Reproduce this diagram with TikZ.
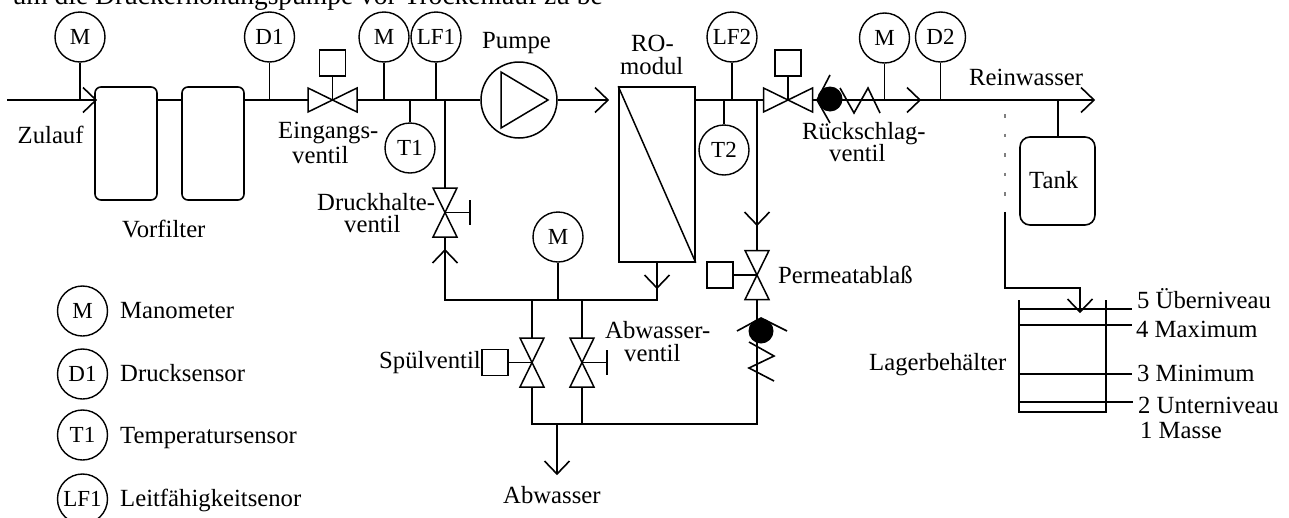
\documentclass[tikz,border=0pt]{standalone}
\usepackage{fontspec}
\setmainfont{Liberation Serif}
\usetikzlibrary{calc}
\tikzset{
  pipe/.style={line width=1.6pt,line join=miter},
  thin pipe/.style={line width=1.4pt},
  inst/.style={circle,draw,line width=1.4pt,minimum size=50pt,inner sep=0pt,font=\fontsize{23}{23}\selectfont},
  txt/.style={anchor=base west,inner sep=0pt,font=\fontsize{24.7}{24.7}\selectfont},
  unit/.style={draw,line width=1.6pt,rounded corners=6pt,minimum width=0pt,inner sep=0pt},
  actbox/.style={draw,line width=1.5pt,minimum size=26pt,inner sep=0pt},
  valveshape/.style={draw,line width=1.5pt,line join=miter,fill=white},
}
% arrow chevrons: tip coordinate, direction
\newcommand{\chevR}[1]{\draw[pipe] ($(#1)+(-13,-12.5)$) -- (#1) -- ($(#1)+(-13,12.5)$);}
\newcommand{\chevD}[1]{\draw[pipe] ($(#1)+(-12.5,-13)$) -- (#1) -- ($(#1)+(12.5,-13)$);}
\newcommand{\chevU}[1]{\draw[pipe] ($(#1)+(-12.5,13)$) -- (#1) -- ($(#1)+(12.5,13)$);}
\newcommand{\valveH}[1]{\draw[valveshape] ($(#1)+(-24.5,-12)$) -- ($(#1)+(-24.5,12)$) -- ($(#1)+(24.5,-12)$) -- ($(#1)+(24.5,12)$) -- cycle;}
\newcommand{\valveV}[1]{\draw[valveshape] ($(#1)+(-12,-24.5)$) -- ($(#1)+(12,-24.5)$) -- ($(#1)+(-12,24.5)$) -- ($(#1)+(12,24.5)$) -- cycle;}
\begin{document}
\begin{tikzpicture}[x=1pt,y=-1pt]
\useasboundingbox (0,0) rectangle (1289,517);
\begin{scope}
\clip (0,0) rectangle (1289,517);
\node[txt,font=\fontsize{27.5}{27.5}\selectfont] (head) at (12.5,4) {um die Druckerhöhungspumpe vor Trockenlauf zu be};

% --- named points ---
\coordinate (start) at (7,100);
\coordinate (t1) at (96,100);
\coordinate (v1) at (332.5,100);
\coordinate (v2) at (788,100);
\coordinate (v3) at (445,212.5);
\coordinate (v4) at (757,275);
\coordinate (v5) at (532,362.5);
\coordinate (v6) at (582,362.5);
\coordinate (endr) at (1094,100);
\coordinate (arrP) at (608,100);
\coordinate (arrC) at (920,100);
\coordinate (arrD) at (757,225);
\coordinate (arrU) at (445,250);
\coordinate (arrM) at (657,288);
\coordinate (arrA) at (557,474);
\coordinate (arrL) at (1080,312);
\coordinate (b1) at (445,300);
\coordinate (b2) at (657,300);
\coordinate (c1) at (532,424);
\coordinate (c2) at (757,424);
\coordinate (dash1) at (1005,114);
\coordinate (dash2) at (1005,212);
\coordinate (corner) at (1005,288);
\coordinate (corner2) at (1080,288);

% --- units ---
\node[unit,minimum width=62pt,minimum height=113pt] (f1) at (126,143.5) {};
\node[unit,minimum width=62pt,minimum height=113pt] (f2) at (213,143.5) {};
\node[unit,rounded corners=10pt,minimum width=75pt,minimum height=88pt] (tank) at (1057.5,181) {};
\node[circle,draw,line width=1.5pt,minimum size=76pt,inner sep=0pt] (pump) at (519,100) {};
\node[draw,line width=1.6pt,minimum width=76pt,minimum height=175pt,inner sep=0pt] (ro) at (657,174.5) {};

% --- main pipe ---
\draw[pipe] (start) -- (f1.west |- start);
\draw[pipe] (f1.east |- start) -- (f2.west |- start);
\draw[pipe] (f2.east |- start) -- (v1);
\draw[pipe] (v1) -- (pump.west);
\draw[pipe] (pump.east) -- (arrP);
\draw[pipe] (ro.east |- start) -- (v2);
\draw[pipe] (v2) -- (endr);
\chevR{t1}\chevR{arrP}\chevR{arrC}\chevR{endr}

% pump triangle, RO diagonal
\draw[line width=1.5pt,line join=miter] (501,72) -- (501,128) -- (548,100) -- cycle;
\draw[line width=1.5pt] (ro.north west) -- (ro.south east);

% --- instruments ---
\node[inst] (M1) at (80,37) {M};
\node[inst] (D1) at (269.5,37) {D1};
\node[inst] (M2) at (384,37) {M};
\node[inst] (LF1) at (436,37) {LF1};
\node[inst] (T1) at (410,148) {T1};
\node[inst] (LF2) at (732,37) {LF2};
\node[inst] (T2) at (724,150) {T2};
\node[inst] (M3) at (884.5,38) {M};
\node[inst] (D2) at (940.5,37) {D2};
\node[inst] (M4) at (558,237) {M};
\foreach \n in {M1,D1,M2,LF1,LF2,M3,D2}
  \draw[thin pipe] (\n.south) -- (\n.south |- start);
\foreach \n in {T1,T2}
  \draw[thin pipe] (\n.north) -- (\n.north |- start);
\draw[thin pipe] (M4.south) -- (M4.south |- b1);

% --- branch pipes ---
\draw[pipe] (v3 |- start) -- (v3);
\draw[pipe] (v3) -- (arrU) -- (b1) -- (b2) -- (arrM) -- (ro.south -| b2);
\chevU{arrU}\chevD{arrM}
\draw[pipe] (v4 |- start) -- (v4);
\chevD{arrD}
\draw[pipe] (v4) -- (c2) -- (c1) -- (v5);
\draw[pipe] (v5) -- (v5 |- b1);
\draw[pipe] (v6 |- c1) -- (v6) -- (v6 |- b1);
\draw[pipe] (arrA |- c1) -- (arrA);
\chevD{arrA}

% --- valves ---
\valveH{v1}\valveH{v2}\valveV{v3}\valveV{v4}\valveV{v5}\valveV{v6}
\node[actbox] (a1) at (332.5,63) {};
\draw[thin pipe] (a1.south) -- (v1);
\node[actbox] (a2) at (788,63) {};
\draw[thin pipe] (a2.south) -- (v2);
\node[actbox] (a4) at (720,275) {};
\draw[thin pipe] (a4.east) -- (v4);
\node[actbox] (a5) at (495,362.5) {};
\draw[thin pipe] (a5.east) -- (v5);
\coordinate (bar3) at (470,212.5);
\coordinate (bar6) at (607,362.5);
\draw[thin pipe] (v3) -- (bar3);
\draw[pipe] ($(bar3)+(0,-12.5)$) -- ($(bar3)+(0,12.5)$);
\draw[thin pipe] (v6) -- (bar6);
\draw[pipe] ($(bar6)+(0,-12.5)$) -- ($(bar6)+(0,12.5)$);

% --- check valves ---
\fill (830,99) circle (12.5pt);
\draw[pipe] (830,75) -- (817,100) -- (830,123);
\draw[pipe] (840,88) -- (854,113) -- (868,88) -- (880,113);
\fill (761,331) circle (12.5pt);
\draw[pipe] (737,331) -- (761,318) -- (787,331);
\draw[pipe] (749,342) -- (774,356) -- (749,368) -- (774,381);

% --- tank ---
\draw[thin pipe] (tank.north -| 1058,137) -- (1058,100);
\node[txt] (tanklbl) at (1029,188) {Tank};

% --- overflow line ---
\draw[line width=1.4pt,gray,dash pattern=on 3.5pt off 16pt] (dash1) -- (dash2);
\draw[pipe] (dash2) -- (corner) -- (corner2) -- (arrL);
\chevD{arrL}

% --- storage vessel ---
\draw[pipe] (1019,300) -- (1019,412) -- (1106,412) -- (1106,300);
\foreach \yy/\xx in {309/1132,325/1132,374/1132,402/1133}
  \draw[thin pipe] (1019,\yy) -- (\xx,\yy);

% --- labels ---
\node[txt] (l1) at (17.5,143) {Zulauf};
\node[txt] (l2) at (278,138) {Eingangs-};
\node[txt] (l3) at (292,163) {ventil};
\node[txt] (l4) at (122,237) {Vorfilter};
\node[txt] (l5) at (317,210) {Druckhalte-};
\node[txt] (l6) at (344,232) {ventil};
\node[txt] (l7) at (482,48) {Pumpe};
\node[txt] (l8) at (631,51) {RO-};
\node[txt] (l9) at (620,74) {modul};
\node[txt] (l10) at (802,139) {Rückschlag-};
\node[txt] (l11) at (829,161) {ventil};
\node[txt] (l12) at (969,85) {Reinwasser};
\node[txt] (l13) at (379,368) {Spülventil};
\node[txt] (l14) at (605,338) {Abwasser-};
\node[txt] (l15) at (624,361) {ventil};
\node[txt] (l16) at (778,283) {Permeatablaß};
\node[txt] (l17) at (503,503) {Abwasser};
\node[txt] (l18) at (869,370) {Lagerbehälter};
\node[txt] (l19) at (1137,308) {5 Überniveau};
\node[txt] (l20) at (1136,337) {4 Maximum};
\node[txt] (l21) at (1137,381) {3 Minimum};
\node[txt] (l22) at (1138,413) {2 Unterniveau};
\node[txt] (l23) at (1140,438) {1 Masse};

% --- legend ---
\node[inst] (kM) at (82.5,311) {\raisebox{-2pt}{M}};
\node[inst] (kD) at (82.5,374) {\raisebox{-1pt}{D1}};
\node[inst] (kT) at (82.5,435) {\raisebox{-2pt}{T1}};
\node[inst] (kL) at (82.5,499) {\raisebox{-1pt}{LF1}};
\node[txt] (k1) at (120,318) {Manometer};
\node[txt] (k2) at (120,381) {Drucksensor};
\node[txt] (k3) at (120,443) {Temperatursensor};
\node[txt] (k4) at (120,506) {Leitfähigkeitsenor};
\end{scope}
\end{tikzpicture}
\end{document}
